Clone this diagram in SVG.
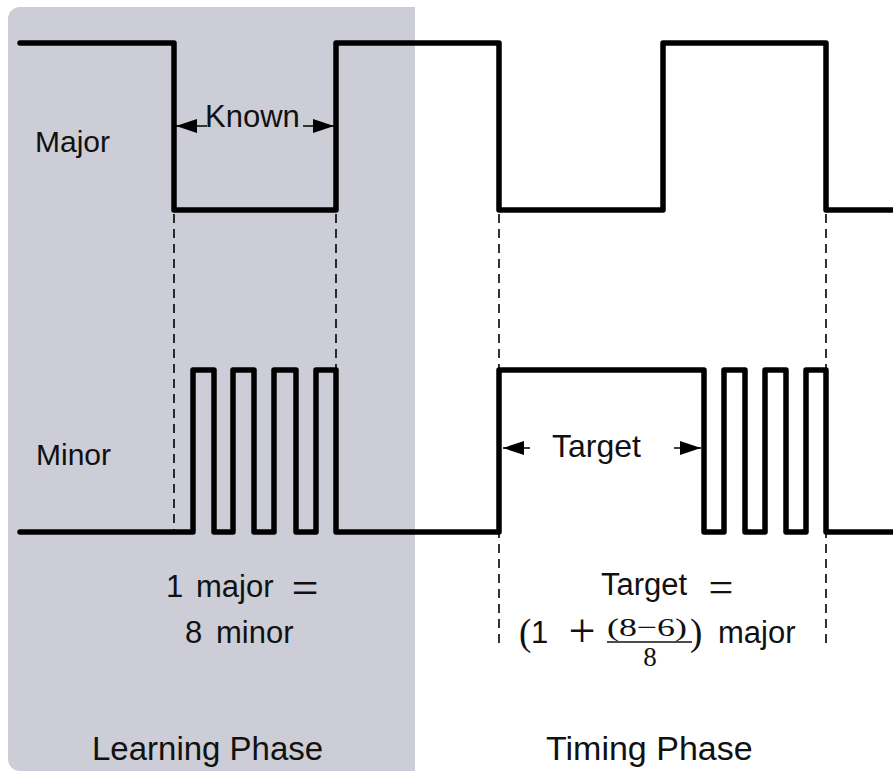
<svg xmlns="http://www.w3.org/2000/svg" width="893" height="774" viewBox="0 0 893 774">
<style>
.wave{fill:none;stroke:#000;stroke-width:5.5;stroke-linejoin:round;stroke-linecap:round}
.dash{fill:none;stroke:#000;stroke-width:1.6;stroke-dasharray:9 6}
.arr{fill:none;stroke:#000;stroke-width:1.5}
.lbl{font-family:"Liberation Sans",Arial,sans-serif;fill:#111}
.m{font-family:"Liberation Serif","Times New Roman",serif;fill:#111}
</style>
<defs>
<marker id="ah" markerUnits="userSpaceOnUse" markerWidth="22" markerHeight="14" refX="21" refY="7" orient="auto"><path d="M0,0 L21,7 L0,14 Z" fill="#000"/></marker>
</defs>
<path id="learning-bg" d="M20,7 H415 V771 H20 A12,12 0 0 1 8,759 V19 A12,12 0 0 1 20,7 Z" fill="#cccdd6"/>
<g id="major-wave"><path class="wave" d="M20,43 H174 V210 H336 V43 H499 V210 H663 V43 H826 V210 H893"/></g>
<g id="minor-wave"><path class="wave" d="M20,532 H193 V370 H214 V532 H233 V370 H254 V532 H274 V370 H296 V532 H316 V370 H336 V532 H499 V370 H704 V532 H724 V370 H745 V532 H765 V370 H786 V532 H806 V370 H826 V532 H893"/></g>
<g id="connectors">
<line class="dash" x1="174" y1="214" x2="174" y2="530"/>
<line class="dash" x1="336" y1="214" x2="336" y2="368"/>
<line class="dash" x1="499" y1="214" x2="499" y2="648"/>
<line class="dash" x1="826" y1="214" x2="826" y2="648"/>
<line class="arr" x1="207" y1="126" x2="176" y2="126" marker-end="url(#ah)"/>
<line class="arr" x1="303" y1="126" x2="334" y2="126" marker-end="url(#ah)"/>
<line class="arr" x1="530" y1="448" x2="503" y2="448" marker-end="url(#ah)"/>
<line class="arr" x1="674" y1="448" x2="701" y2="448" marker-end="url(#ah)"/>
</g>
<g id="label-major"><text class="lbl" x="35" y="152" font-size="30">Major</text></g>
<g id="label-minor"><text class="lbl" x="36" y="465" font-size="30">Minor</text></g>
<g id="label-known"><text class="lbl" x="205" y="127" font-size="31">Known</text></g>
<g id="label-target"><text class="lbl" x="552" y="457" font-size="32">Target</text></g>
<g id="ratio">
<text class="lbl" x="166" y="597" font-size="31">1</text>
<text class="lbl" x="196" y="597" font-size="31">major</text>
<text class="m" x="305" y="604" font-size="48" text-anchor="middle">=</text>
<text class="lbl" x="185" y="643" font-size="31">8</text>
<text class="lbl" x="216" y="643" font-size="31">minor</text>
</g>
<g id="formula">
<text class="lbl" x="601" y="595" font-size="31">Target</text>
<text class="m" x="721" y="602" font-size="44" text-anchor="middle">=</text>
<text class="m" x="519" y="645" font-size="37">(</text>
<text class="lbl" x="531" y="643" font-size="31">1</text>
<text class="m" x="582" y="647" font-size="48" text-anchor="middle">+</text>
<text class="m" x="607" y="636" font-size="26" textLength="80" lengthAdjust="spacingAndGlyphs">(8−6)</text>
<line x1="607" y1="642" x2="692" y2="642" stroke="#111" stroke-width="1.4"/>
<text class="m" x="650" y="666" font-size="27" text-anchor="middle">8</text>
<text class="m" x="690" y="645" font-size="37">)</text>
<text class="lbl" x="718" y="643" font-size="31">major</text>
</g>
<g id="phase-labels">
<text class="lbl" x="92" y="760" font-size="33">Learning Phase</text>
<text class="lbl" x="546" y="760" font-size="34">Timing Phase</text>
</g>
</svg>
